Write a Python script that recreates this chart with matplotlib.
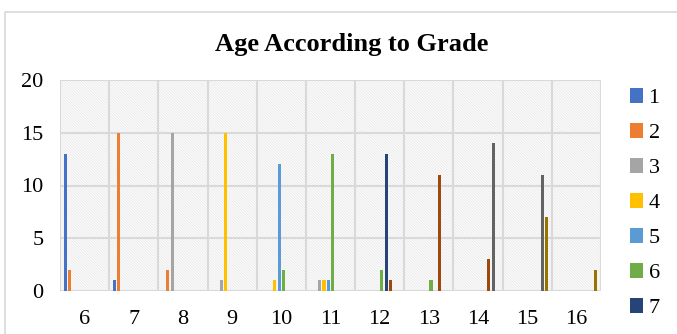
import matplotlib.pyplot as plt
from matplotlib.patches import Rectangle
import numpy as np

plt.rcParams['font.family'] = 'Liberation Serif'
plt.rcParams['hatch.linewidth'] = 0.8

# ages on the x axis, one series per grade
ages = ['6', '7', '8', '9', '10', '11', '12', '13', '14', '15', '16']
grades = ['1', '2', '3', '4', '5', '6', '7', '8', '9', '10']
grade1 = [13, 1, 0, 0, 0, 0, 0, 0, 0, 0, 0]
grade2 = [2, 15, 2, 0, 0, 0, 0, 0, 0, 0, 0]
grade3 = [0, 0, 15, 1, 0, 1, 0, 0, 0, 0, 0]
grade4 = [0, 0, 0, 15, 1, 1, 0, 0, 0, 0, 0]
grade5 = [0, 0, 0, 0, 12, 1, 0, 0, 0, 0, 0]
grade6 = [0, 0, 0, 0, 2, 13, 2, 1, 0, 0, 0]
grade7 = [0, 0, 0, 0, 0, 0, 13, 0, 0, 0, 0]
grade8 = [0, 0, 0, 0, 0, 0, 1, 11, 3, 0, 0]
grade9 = [0, 0, 0, 0, 0, 0, 0, 0, 14, 11, 0]
grade10 = [0, 0, 0, 0, 0, 0, 0, 0, 0, 7, 2]
series = [grade1, grade2, grade3, grade4, grade5, grade6, grade7, grade8, grade9, grade10]
colors = ['#4472C4', '#ED7D31', '#A5A5A5', '#FFC000', '#5B9BD5',
          '#70AD47', '#264478', '#9E480E', '#636363', '#997300']

fig = plt.figure(figsize=(6.77, 3.34), dpi=100)
ax = fig.add_axes([60 / 677, 1 - 291 / 334, 541 / 677, 211 / 334])

# chart border
fig.patches.append(Rectangle((5 / 677, -0.1), 1.0, 1 - 12 / 334 + 0.1,
                             transform=fig.transFigure, fill=False,
                             edgecolor='#d9d9d9', linewidth=1.2))

# striped plot area
ax.add_patch(Rectangle((0, 0), 1, 1, transform=ax.transAxes, facecolor='white',
                       edgecolor='#ececec', hatch='\\' * 12, linewidth=0, zorder=0))

x = np.arange(len(ages))
slot = 0.088
width = 0.064
for i, (vals, c) in enumerate(zip(series, colors)):
    offs = (i - (len(series) - 1) / 2) * slot
    ax.bar(x + offs, vals, width=width, color=c, label=grades[i], zorder=3)

ax.set_xlim(-0.5, len(ages) - 0.5)
ax.set_ylim(0, 20)
ax.set_yticks([0, 5, 10, 15, 20])
ax.set_xticks(x)
ax.set_xticklabels(ages)
for y in [0, 5, 10, 15, 20]:
    ax.axhline(y, color='#d9d9d9', linewidth=1.5, zorder=1)
for b in np.arange(-0.5, len(ages), 1):
    ax.axvline(b, color='#d9d9d9', linewidth=1.5, zorder=1)
for s in ax.spines.values():
    s.set_visible(False)
ax.tick_params(length=0, labelsize=16)
ax.tick_params(axis='x', pad=14)
ax.tick_params(axis='y', pad=12)

fig.text(352 / 677, 1 - 45 / 334, 'Age According to Grade', ha='center', va='center',
         fontsize=19, fontweight='bold')

handles, labels = ax.get_legend_handles_labels()
ax.legend(handles[:7], labels[:7], loc='upper left', bbox_to_anchor=(1.016, 1.055),
          frameon=False, fontsize=16, handlelength=0.6, handleheight=0.6,
          handletextpad=0.25, labelspacing=0.68)

fig.savefig('out.png', dpi=100)
